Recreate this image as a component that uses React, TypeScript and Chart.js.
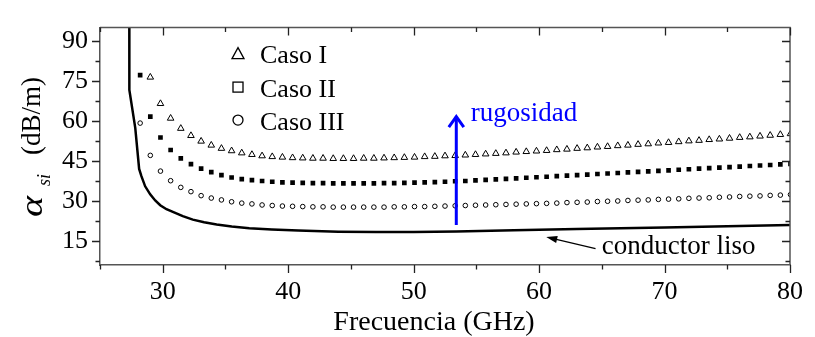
import React, { useEffect, useRef } from 'react';
import { Chart, registerables } from 'chart.js';

Chart.register(...registerables);

// ---------------- data ----------------
const FREQ = [
  28.2, 29.01, 29.82, 30.63, 31.44, 32.25, 33.06, 33.87, 34.68, 35.49,
  36.3, 37.11, 37.92, 38.73, 39.54, 40.35, 41.16, 41.97, 42.78, 43.59,
  44.4, 45.21, 46.02, 46.83, 47.64, 48.45, 49.26, 50.07, 50.88, 51.69,
  52.5, 53.31, 54.12, 54.93, 55.74, 56.55, 57.36, 58.17, 58.98, 59.79,
  60.6, 61.41, 62.22, 63.03, 63.84, 64.65, 65.46, 66.27, 67.08, 67.89,
  68.7, 69.51, 70.32, 71.13, 71.94, 72.75, 73.56, 74.37, 75.18, 75.99,
  76.8, 77.61, 78.42, 79.23, 80.04,
];

const CASO_I = [
  95.8, 76.4, 66.5, 61.0, 57.2, 54.5, 52.4, 50.9, 49.7, 48.8,
  48.0, 47.4, 46.9, 46.6, 46.4, 46.2, 46.1, 46.0, 46.0, 45.9,
  45.9, 45.9, 46.0, 46.0, 46.1, 46.2, 46.3, 46.4, 46.6, 46.7,
  46.9, 47.0, 47.2, 47.4, 47.6, 47.8, 48.0, 48.3, 48.5, 48.7,
  48.9, 49.2, 49.4, 49.7, 49.9, 50.2, 50.4, 50.7, 50.9, 51.2,
  51.4, 51.7, 51.9, 52.2, 52.5, 52.7, 53.0, 53.2, 53.5, 53.8,
  54.0, 54.3, 54.6, 54.9, 55.2,
];

const CASO_II = [
  77.2, 61.6, 53.8, 49.1, 46.0, 43.8, 42.1, 40.8, 39.7, 38.8,
  38.2, 37.8, 37.5, 37.2, 37.0, 36.9, 36.8, 36.7, 36.7, 36.6,
  36.6, 36.6, 36.6, 36.6, 36.7, 36.7, 36.8, 36.9, 37.0, 37.1,
  37.2, 37.4, 37.5, 37.7, 37.9, 38.1, 38.3, 38.5, 38.7, 38.9,
  39.1, 39.3, 39.5, 39.7, 39.9, 40.1, 40.3, 40.5, 40.7, 40.9,
  41.1, 41.3, 41.5, 41.7, 41.9, 42.1, 42.3, 42.5, 42.7, 42.9,
  43.1, 43.3, 43.5, 43.7, 43.9,
];

const CASO_III = [
  59.2, 47.1, 41.2, 37.6, 35.1, 33.5, 32.0, 31.1, 30.4, 29.7,
  29.2, 28.9, 28.5, 28.3, 28.1, 28.0, 27.9, 27.8, 27.8, 27.7,
  27.7, 27.7, 27.7, 27.7, 27.7, 27.8, 27.8, 27.9, 27.9, 28.0,
  28.1, 28.2, 28.3, 28.4, 28.5, 28.6, 28.7, 28.8, 28.9, 29.0,
  29.1, 29.2, 29.4, 29.5, 29.6, 29.8, 29.9, 30.0, 30.2, 30.3,
  30.4, 30.6, 30.7, 30.8, 31.0, 31.1, 31.2, 31.4, 31.5, 31.7,
  31.8, 31.9, 32.1, 32.2, 32.4,
];

const LISO_F = [
  27.33, 27.34, 27.81, 28.12, 28.3, 28.6, 29.0, 29.4, 29.8, 30.3,
  30.9, 31.6, 32.4, 33.3, 34.3, 35.5, 36.9, 38.7, 40.8, 44,
  47, 50, 53.4, 58, 63, 70, 75, 80,
];
const LISO_A = [
  130, 71.6, 57.4, 42.0, 39.3, 35.5, 32.5, 30.2, 28.4, 26.9,
  25.7, 24.3, 23.0, 22.0, 21.2, 20.4, 19.8, 19.3, 18.9, 18.5,
  18.4, 18.4, 18.6, 19.0, 19.5, 20.1, 20.5, 21.0,
];

const X_TICKS = [30, 40, 50, 60, 70, 80];
const X_MINOR = [25, 35, 45, 55, 65, 75];
const Y_TICKS = [15, 30, 45, 60, 75, 90];
const Y_MINOR = [7.5, 22.5, 37.5, 52.5, 67.5, 82.5];
const LEGEND_LABELS = ['Caso I', 'Caso II', 'Caso III'];

const X_TITLE = 'Frecuencia (GHz)';
const Y_TITLE_SYM = 'α';
const Y_TITLE_SUB = 'si';
const Y_TITLE_UNIT = '(dB/m)';

const RUG_LABEL = 'rugosidad';
const RUG_X = 53.4;
const RUG_FROM = 21;
const RUG_TO = 62;
const RUG_TEXT_AT = [54.55, 59.8];

const LISO_LABEL = 'conductor liso';
const LISO_TIP = [60.57, 16.5];
const LISO_TAIL = [64.5, 12.15];
const LISO_TEXT_AT = [65.0, 10.0];

// ---------------- styles ----------------
const SERIF = "'Liberation Serif'";
const AXIS_COLOR = '#555';
const TICK_COLOR = '#222';

const decor = {
  id: 'decor',
  afterDatasetsDraw(chart: any) {
    const { ctx, chartArea: a, scales } = chart;
    const x = scales.x;
    const y = scales.y;
    ctx.save();

    ctx.strokeStyle = AXIS_COLOR;
    ctx.lineWidth = 1.5;
    ctx.beginPath();
    ctx.moveTo(a.left, a.top);
    ctx.lineTo(a.right, a.top);
    ctx.lineTo(a.right, a.bottom);
    ctx.stroke();

    ctx.strokeStyle = TICK_COLOR;
    ctx.lineWidth = 1.3;
    const xt = (vals: number[], len: number) => {
      vals.forEach((v) => {
        const px = Math.round(x.getPixelForValue(v)) + 0.5;
        ctx.beginPath();
        ctx.moveTo(px, a.bottom);
        ctx.lineTo(px, a.bottom + len);
        ctx.moveTo(px, a.top);
        ctx.lineTo(px, a.top + len);
        ctx.stroke();
      });
    };
    const yt = (vals: number[], len: number) => {
      vals.forEach((v) => {
        const py = Math.round(y.getPixelForValue(v)) + 0.5;
        ctx.beginPath();
        ctx.moveTo(a.left, py);
        ctx.lineTo(a.left - len, py);
        ctx.moveTo(a.right, py);
        ctx.lineTo(a.right - len, py);
        ctx.stroke();
      });
    };
    xt(X_TICKS, 8);
    xt(X_MINOR, 4.5);
    yt(Y_TICKS, 8);
    yt(Y_MINOR, 4.5);

    // rugosidad arrow
    const rx = x.getPixelForValue(RUG_X);
    const ry0 = y.getPixelForValue(RUG_FROM);
    const ry1 = y.getPixelForValue(RUG_TO);
    ctx.strokeStyle = '#0000ff';
    ctx.lineWidth = 3;
    ctx.lineCap = 'butt';
    ctx.beginPath();
    ctx.moveTo(rx, ry0);
    ctx.lineTo(rx, ry1 + 1);
    ctx.stroke();
    ctx.lineJoin = 'miter';
    ctx.beginPath();
    ctx.moveTo(rx - 7.5, ry1 + 11.5);
    ctx.lineTo(rx, ry1 + 1);
    ctx.lineTo(rx + 7.5, ry1 + 11.5);
    ctx.stroke();
    ctx.fillStyle = '#0000ff';
    ctx.font = `27px ${SERIF}`;
    ctx.textAlign = 'left';
    ctx.textBaseline = 'alphabetic';
    ctx.fillText(RUG_LABEL, x.getPixelForValue(RUG_TEXT_AT[0]), y.getPixelForValue(RUG_TEXT_AT[1]));

    // conductor liso arrow
    const tx = x.getPixelForValue(LISO_TIP[0]);
    const ty = y.getPixelForValue(LISO_TIP[1]);
    const sx = x.getPixelForValue(LISO_TAIL[0]);
    const sy = y.getPixelForValue(LISO_TAIL[1]);
    const ang = Math.atan2(ty - sy, tx - sx);
    ctx.strokeStyle = '#000';
    ctx.fillStyle = '#000';
    ctx.lineWidth = 1.2;
    ctx.beginPath();
    ctx.moveTo(sx, sy);
    ctx.lineTo(tx - Math.cos(ang) * 6, ty - Math.sin(ang) * 6);
    ctx.stroke();
    const hl = 11, hw = 3.5;
    ctx.beginPath();
    ctx.moveTo(tx, ty);
    ctx.lineTo(tx - Math.cos(ang) * hl + Math.sin(ang) * hw, ty - Math.sin(ang) * hl - Math.cos(ang) * hw);
    ctx.lineTo(tx - Math.cos(ang) * hl - Math.sin(ang) * hw, ty - Math.sin(ang) * hl + Math.cos(ang) * hw);
    ctx.closePath();
    ctx.fill();
    ctx.font = `27px ${SERIF}`;
    ctx.fillText(LISO_LABEL, x.getPixelForValue(LISO_TEXT_AT[0]), y.getPixelForValue(LISO_TEXT_AT[1]));

    // legend
    const lx = a.left + 138;
    const rows = [a.top + 26, a.top + 59.5, a.top + 92.5];
    ctx.lineWidth = 1.3;
    ctx.strokeStyle = '#000';
    ctx.beginPath();
    ctx.moveTo(lx, rows[0] - 6);
    ctx.lineTo(lx + 6, rows[0] + 5);
    ctx.lineTo(lx - 6, rows[0] + 5);
    ctx.closePath();
    ctx.stroke();
    ctx.strokeRect(lx - 5, rows[1] - 5, 10, 10);
    ctx.beginPath();
    ctx.arc(lx, rows[2], 5, 0, Math.PI * 2);
    ctx.stroke();
    ctx.font = `26px ${SERIF}`;
    LEGEND_LABELS.forEach((t, i) => {
      ctx.fillText(t, lx + 22, rows[i] + 9.5);
    });

    // x title
    ctx.textAlign = 'center';
    ctx.font = `28px ${SERIF}`;
    ctx.fillText(X_TITLE, (a.left + a.right) / 2 - 11, 330);

    // y title (rotated)
    ctx.save();
    ctx.translate(39.5, 217);
    ctx.rotate(-Math.PI / 2);
    ctx.textAlign = 'left';
    ctx.font = `italic 32px ${SERIF}`;
    const wA = ctx.measureText(Y_TITLE_SYM).width;
    ctx.save();
    ctx.scale(Math.min(1.25, 28 / wA), 1);
    ctx.fillText(Y_TITLE_SYM, 0, 2);
    ctx.restore();
    ctx.font = `italic 18px ${SERIF}`;
    ctx.fillText(Y_TITLE_SUB, 31, 10);
    ctx.font = `27px ${SERIF}`;
    ctx.fillText(Y_TITLE_UNIT, 62, 0);
    ctx.restore();

    ctx.restore();
  },
};

export default function App() {
  const ref = useRef<HTMLCanvasElement | null>(null);
  useEffect(() => {
    if (!ref.current) return;
    const pts = (ys: number[]) => FREQ.map((f, i) => ({ x: f, y: ys[i] }));
    const chart = new Chart(ref.current, {
      type: 'scatter',
      data: {
        datasets: [
          {
            label: 'conductor liso',
            data: LISO_F.map((f, i) => ({ x: f, y: LISO_A[i] })),
            showLine: true,
            borderColor: '#000',
            borderWidth: 2.5,
            pointRadius: 0,
            tension: 0,
            clip: 0,
          },
          {
            label: LEGEND_LABELS[0],
            data: pts(CASO_I),
            pointStyle: 'triangle',
            pointRadius: 3.8,
            borderColor: '#000',
            backgroundColor: 'rgba(0,0,0,0)',
            borderWidth: 1,
            clip: 0,
          },
          {
            label: LEGEND_LABELS[1],
            data: pts(CASO_II),
            pointStyle: 'rect',
            pointRadius: 3.3,
            borderColor: '#000',
            backgroundColor: '#000',
            borderWidth: 0,
            clip: 0,
          },
          {
            label: LEGEND_LABELS[2],
            data: pts(CASO_III),
            pointStyle: 'circle',
            pointRadius: 2.3,
            borderColor: '#000',
            backgroundColor: 'rgba(0,0,0,0)',
            borderWidth: 1,
            clip: 0,
          },
        ],
      },
      options: {
        responsive: false,
        animation: false,
        layout: { padding: { top: 14, right: 17, left: 0, bottom: 0 } },
        plugins: { legend: { display: false }, tooltip: { enabled: false } },
        scales: {
          x: {
            type: 'linear',
            min: 25,
            max: 80,
            afterFit: (s: any) => { s.height = 72; },
            afterBuildTicks: (s: any) => { s.ticks = X_TICKS.map((v) => ({ value: v })); },
            grid: { display: false, drawTicks: false },
            border: { display: true, color: AXIS_COLOR, width: 1.5 },
            ticks: { color: '#000', padding: 12, maxRotation: 0, font: { family: SERIF, size: 26 } },
          },
          y: {
            type: 'linear',
            min: 6,
            max: 95,
            afterFit: (s: any) => { s.width = 100; },
            afterBuildTicks: (s: any) => { s.ticks = Y_TICKS.map((v) => ({ value: v })); },
            grid: { display: false, drawTicks: false },
            border: { display: true, color: AXIS_COLOR, width: 1.5 },
            ticks: { color: '#000', padding: 12, font: { family: SERIF, size: 26 } },
          },
        },
      },
      plugins: [decor],
    });
    return () => chart.destroy();
  }, []);
  return (
    <div style={{ position: 'absolute', left: 0, top: 0, width: 815, height: 337, background: '#fff' }}>
      <canvas ref={ref} width={815} height={337} style={{ display: 'block' }} />
    </div>
  );
}
